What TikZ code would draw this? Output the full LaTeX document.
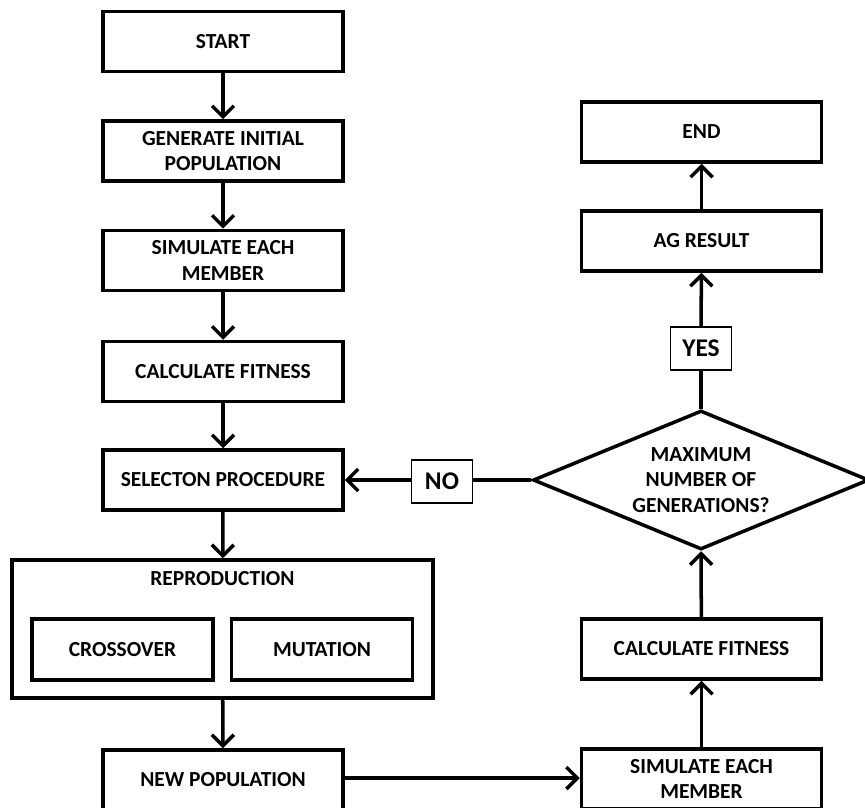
\documentclass[tikz,border=0pt]{standalone}
\usepackage{fontspec}
\setmainfont{Carlito}
\usetikzlibrary{arrows.meta,shapes.geometric}

\tikzset{
  stepbox/.style={draw, line width=2pt, minimum width=4.8cm, minimum height=1.2cm, align=center, font=\fontsize{12.2}{14.6}\selectfont\bfseries},
  tagbox/.style={draw, line width=0.6pt, minimum width=1.22cm, minimum height=0.86cm, font=\fontsize{14.5}{16}\selectfont\bfseries},
  arr/.style={line width=2pt, -{Straight Barb[length=2.2mm,width=4.4mm,line width=2pt]}},
  ln/.style={line width=2pt}
}

\begin{document}
\begin{tikzpicture}
  \useasboundingbox (0,0) rectangle (17.3,-16.14);
  \fill[white] (0,0) rectangle (17.3,-16.14);

  \draw (4.46,-0.83) node[stepbox] (start) {START};
  \draw (4.46,-3.02) node[stepbox] (gen) {GENERATE INITIAL\\POPULATION};
  \draw (4.46,-5.21) node[stepbox] (sim) {SIMULATE EACH\\MEMBER};
  \draw (4.46,-7.43) node[stepbox] (fit) {CALCULATE FITNESS};
  \draw (4.46,-9.6) node[stepbox] (sel) {SELECTON PROCEDURE};

  \draw (4.45,-12.58) node[stepbox, minimum width=8.42cm, minimum height=2.76cm] (rep) {};
  \draw (4.45,-11.58) node[font=\fontsize{12.2}{14.6}\selectfont\bfseries] (repl) {REPRODUCTION};
  \draw (2.45,-12.99) node[stepbox, minimum width=3.62cm, minimum height=1.22cm] (cross) {CROSSOVER};
  \draw (6.44,-12.99) node[stepbox, minimum width=3.62cm, minimum height=1.22cm] (mut) {MUTATION};

  \draw (4.46,-15.6) node[stepbox] (newpop) {NEW POPULATION};

  \draw (14.03,-2.64) node[stepbox] (end) {END};
  \draw (14.03,-4.82) node[stepbox] (res) {AG RESULT};
  \draw (14.02,-6.97) node[tagbox] (yes) {YES};
  \draw (14.02,-9.6) node[draw, diamond, line width=2pt, inner sep=0pt, aspect=2.42, minimum width=6.72cm, minimum height=2.78cm, align=center, font=\fontsize{12.2}{14.6}\selectfont\bfseries] (dec) {MAXIMUM\\NUMBER OF\\GENERATIONS?};
  \draw (8.84,-9.63) node[tagbox] (no) {NO};
  \draw (14.03,-12.98) node[stepbox] (fit2) {CALCULATE FITNESS};
  \draw (14.03,-15.58) node[stepbox] (sim2) {SIMULATE EACH\\MEMBER};

  \draw[arr] (start) -- (gen);
  \draw[arr] (gen) -- (sim);
  \draw[arr] (sim) -- (fit);
  \draw[arr] (fit) -- (sel);
  \draw[arr] (sel) -- (rep);
  \draw[arr] (rep) -- (newpop);
  \draw[arr] (newpop.east |- 0,-15.56) -- (sim2.west |- 0,-15.56);
  \draw[arr] (sim2) -- (fit2);
  \draw[arr] (fit2) -- (dec.south);
  \draw[ln] (dec.north) -- (yes);
  \draw[arr] (yes) -- (res);
  \draw[arr] (res) -- (end);
  \draw[ln] (dec.west) -- (dec.west -| no.east);
  \draw[arr] (no.west |- dec.west) -- (sel.east |- dec.west);
\end{tikzpicture}
\end{document}
